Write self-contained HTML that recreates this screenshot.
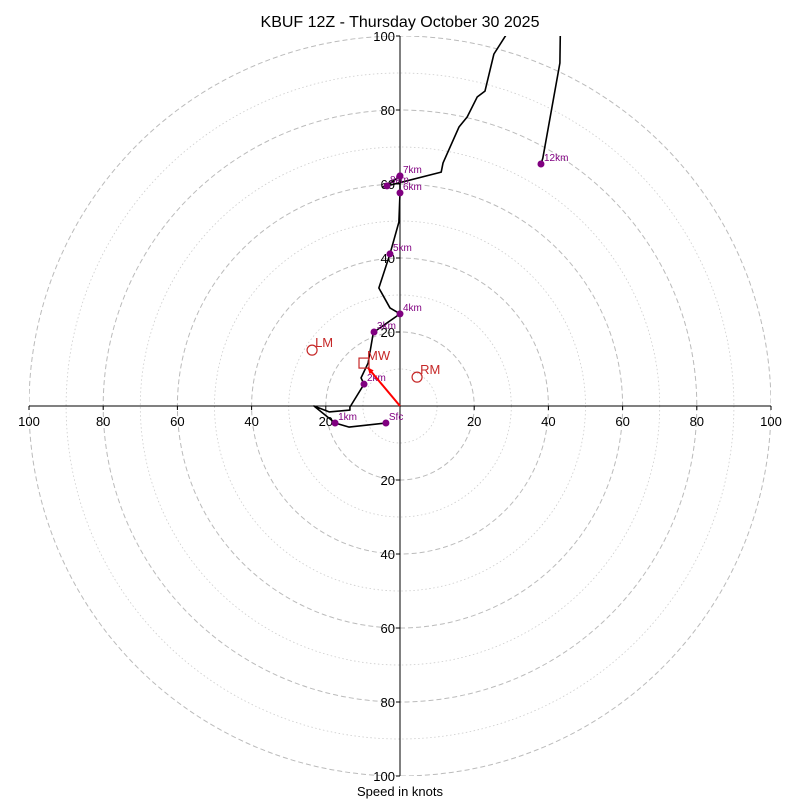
<!DOCTYPE html>
<html><head><meta charset="utf-8"><style>
body{margin:0;background:#fff}
svg{display:block;font-family:"Liberation Sans","DejaVu Sans",sans-serif}
</style></head><body>
<svg id="c" width="800" height="800" viewBox="0 0 800 800">
<defs><clipPath id="clip"><rect x="29" y="36" width="742" height="740"/></clipPath></defs>
<text x="400" y="27" text-anchor="middle" font-size="16">KBUF 12Z - Thursday October 30 2025</text>
<text x="400" y="796" text-anchor="middle" font-size="13">Speed in knots</text>
<g id="grid" clip-path="url(#clip)"></g>
<g id="axes"></g>
<g id="marks" clip-path="url(#clip)"></g>
</svg>
<script>
const ringValues=[10,20,30,40,50,60,70,80,90,100];
const tickLabels=[20,40,60,80,100];
const traceU=[-3.8,-13.7,-17.5,-23.2,-19.1,-13.5,-13.5,-9.7,-10.5,-8.6,-7.3,-7.0,0,-2.7,-5.7,-2.7,-0.3,0,0,-3.5,-4.6,11.1,11.6,15.9,18.1,20.8,22.9,25.3,28.6,35,43.2,43.2,43.1,38.5,38.0];
const traceV=[-4.6,-5.7,-4.6,0,-1.6,-1.1,-0.3,5.9,7.6,11.6,19.2,20.0,24.9,26.5,31.9,41.1,49.7,57.6,62.2,59.5,59.2,63.2,65.7,75.4,78.1,83.5,85.1,95.1,100.3,115,115,100,92.7,67,65.4];
const levelNames=["Sfc","1km","2km","3km","4km","5km","6km","7km","8km","12km"];
const levelU=[-3.8,-17.5,-9.7,-7.0,0,-2.7,0,0,-3.5,38.0];
const levelV=[-4.6,-4.6,5.9,20.0,24.9,41.1,57.6,62.2,59.5,65.4];
const motionNames=["LM","MW","RM"];
const motionU=[-23.7,-9.7,4.6];
const motionV=[15.1,11.6,7.8];
const cx=400,cy=406,sx=3.71,sy=3.70;
const X=u=>cx+u*sx, Y=v=>cy-v*sy;
const NS="http://www.w3.org/2000/svg";
function mk(t,a,p){const e=document.createElementNS(NS,t);for(const k in a)e.setAttribute(k,a[k]);p.appendChild(e);return e;}
const grid=document.getElementById('grid'),axes=document.getElementById('axes'),marks=document.getElementById('marks');
ringValues.forEach(r=>{
  const e=mk('ellipse',{cx:cx,cy:cy,rx:r*sx,ry:r*sy,fill:'none',stroke:r%20===0?'#bbb':'#ccc','stroke-width':r%20===0?1:0.8,'stroke-dasharray':r%20===0?'5,3':'1.5,2.5'},grid);
  
  
});
let l=mk('line',{x1:29,y1:cy,x2:771,y2:cy,stroke:'#000','stroke-width':1},axes);


l=mk('line',{x1:cx,y1:36,x2:cx,y2:776,stroke:'#000','stroke-width':1},axes);


[-1,1].forEach(s=>{
  tickLabels.forEach(t=>{
    mk('line',{x1:X(s*t),y1:cy,x2:X(s*t),y2:cy+4,stroke:'#000'},axes);
    let tx=mk('text',{x:X(s*t),y:cy+20,'text-anchor':'middle','font-size':13},axes);
    tx.textContent=t;
    
    
    mk('line',{x1:cx-4,y1:Y(s*t),x2:cx,y2:Y(s*t),stroke:'#000'},axes);
    let ty=mk('text',{x:cx-5,y:Y(s*t)+5,'text-anchor':'end','font-size':13},axes);
    ty.textContent=t;
    
    
  });
});
let pts=traceU.map((u,i)=>X(u)+','+Y(traceV[i])).join(' ');
let pl=mk('polyline',{points:pts,fill:'none',stroke:'#000','stroke-width':1.6,'stroke-linejoin':'round'},marks);


levelNames.forEach((n,i)=>{
  let c=mk('circle',{cx:X(levelU[i]),cy:Y(levelV[i]),r:3.5,fill:'purple'},marks);
  
  
  let t=mk('text',{x:X(levelU[i])+3,y:Y(levelV[i])-3,'font-size':10,fill:'purple'},marks);
  t.textContent=n;
  
  
});
let mw=mk('line',{x1:X(0),y1:Y(0),x2:X(motionU[1]*0.9),y2:Y(motionV[1]*0.9),stroke:'red','stroke-width':2},marks);


mk('polygon',{points:`${X(motionU[1]*0.9)},${Y(motionV[1]*0.9)} ${X(motionU[1]*0.9)+2},${Y(motionV[1]*0.9)+7} ${X(motionU[1]*0.9)+6},${Y(motionV[1]*0.9)+3}`,fill:'red'},marks);
motionNames.forEach((n,i)=>{
  const x=X(motionU[i]),y=Y(motionV[i]);
  let m= n==='MW'? mk('rect',{x:x-5,y:y-5,width:10,height:10,fill:'none',stroke:'#c62828','stroke-width':1.2},marks)
                 : mk('circle',{cx:x,cy:y,r:5,fill:'none',stroke:'#c62828','stroke-width':1.2},marks);
  
  
  let t=mk('text',{x:x+3,y:y-3,'font-size':13,fill:'#c62828'},marks);
  t.textContent=n;
  
  
});
</script>
</body></html>
